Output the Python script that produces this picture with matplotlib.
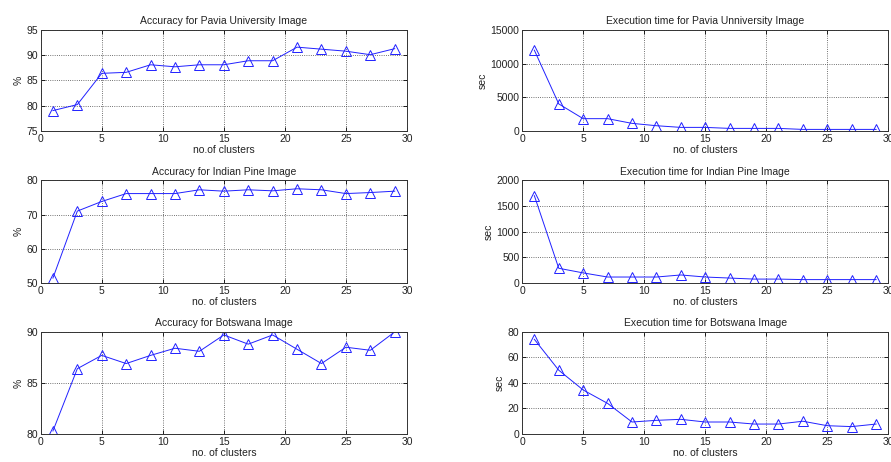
import numpy as np
import matplotlib
matplotlib.use('Agg')
import matplotlib.pyplot as plt

plt.rcParams['font.family'] = ['Liberation Sans', 'DejaVu Sans']
plt.rcParams['font.size'] = 7.5
plt.rcParams['text.color'] = '#222222'
plt.rcParams['axes.labelcolor'] = '#222222'
plt.rcParams['xtick.labelcolor'] = '#222222'
plt.rcParams['ytick.labelcolor'] = '#222222'

# numero de clusters
clusters = list(range(1, 30, 2))

# acuracia (%)
acc_pavia = [79.0, 80.2, 86.4, 86.6, 88.1, 87.7, 88.1, 88.1, 88.9, 88.9, 91.6, 91.2, 90.8, 90.1, 91.3]
acc_indian = [51.5, 71.0, 73.8, 76.1, 76.1, 76.1, 77.2, 76.8, 77.2, 76.9, 77.5, 77.2, 76.1, 76.4, 76.8]
acc_botswana = [80.3, 86.4, 87.7, 86.9, 87.7, 88.4, 88.1, 89.7, 88.8, 89.7, 88.3, 86.9, 88.5, 88.2, 90.0]

# tempo de execucao (sec)
time_pavia = [12000, 4000, 1800, 1800, 1100, 750, 500, 500, 350, 350, 350, 200, 200, 200, 200]
time_indian = [1700, 290, 200, 120, 120, 120, 160, 120, 100, 80, 80, 70, 70, 70, 70]
time_botswana = [74.2, 50.0, 34.5, 24.0, 9.4, 10.7, 11.5, 9.4, 9.4, 7.8, 7.8, 10.0, 6.5, 5.8, 7.8]

panels = [
    (acc_pavia, 'Accuracy for Pavia University Image', '%', 'no.of clusters', (75, 95), np.arange(75, 96, 5)),
    (time_pavia, 'Execution time for Pavia Unniversity Image', 'sec', 'no. of clusters', (0, 15000), np.arange(0, 15001, 5000)),
    (acc_indian, 'Accuracy for Indian Pine Image', '%', 'no. of clusters', (50, 80), np.arange(50, 81, 10)),
    (time_indian, 'Execution time for Indian Pine Image', 'sec', 'no. of clusters', (0, 2000), np.arange(0, 2001, 500)),
    (acc_botswana, 'Accuracy for Botswana Image', '%', 'no. of clusters', (80, 90), np.arange(80, 91, 5)),
    (time_botswana, 'Execution time for Botswana Image', 'sec', 'no. of clusters', (0, 80), np.arange(0, 81, 20)),
]

# posicoes dos eixos (fracao da figura)
lefts = [0.0457, 0.586]
bottoms = [0.717, 0.387, 0.0606]
heights = [0.218, 0.223, 0.221]
width = 0.411

fig = plt.figure(figsize=(8.91, 4.62), dpi=100)

for k, (vals, title, ylab, xlab, ylim, yt) in enumerate(panels):
    row, col = k // 2, k % 2
    ax = fig.add_axes([lefts[col], bottoms[row], width, heights[row]])
    ax.plot(clusters, vals, '-', color='#2020ff', lw=0.7, marker='^',
            markerfacecolor='none', markeredgecolor='#2020ff', markersize=7, mew=0.7)
    ax.set_xlim(0, 30)
    ax.set_ylim(*ylim)
    ax.set_xticks(np.arange(0, 31, 5))
    ax.set_yticks(yt)
    ax.grid(True, linestyle=':', color='#444444', linewidth=0.6)
    ax.tick_params(direction='in', top=True, right=True, length=3, width=0.6, pad=2)
    for s in ax.spines.values():
        s.set_linewidth(0.7)
        s.set_color('#333333')
    ax.set_title(title, fontsize=7.5, pad=4)
    ax.set_xlabel(xlab, labelpad=1)
    ax.set_ylabel(ylab, labelpad=2)

fig.savefig('out.png', dpi=100)
